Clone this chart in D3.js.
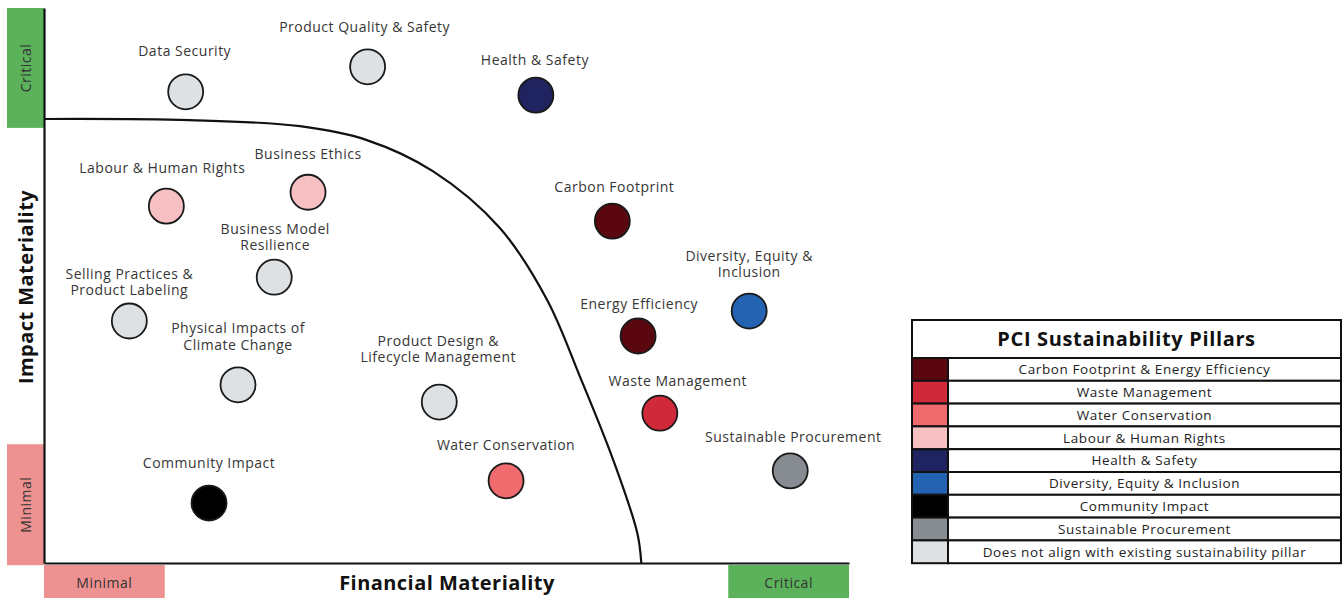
<!DOCTYPE html>
<html>
<head>
<meta charset="utf-8">
<script src="https://cdn.jsdelivr.net/npm/d3@7"></script>
<style>
  html, body { margin: 0; padding: 0; background: #fff; }
  svg { display: block; }
  text { font-family: "Open Sans", "Noto Sans", sans-serif; }
</style>
</head>
<body>
<svg id="chart" width="1342" height="598"></svg>
<script>
// ---------------- DATA ----------------
const topics = [
  ["Data Security"],
  ["Product Quality & Safety"],
  ["Health & Safety"],
  ["Labour & Human Rights"],
  ["Business Ethics"],
  ["Business Model", "Resilience"],
  ["Selling Practices &", "Product Labeling"],
  ["Physical Impacts of", "Climate Change"],
  ["Product Design &", "Lifecycle Management"],
  ["Community Impact"],
  ["Water Conservation"],
  ["Carbon Footprint"],
  ["Energy Efficiency"],
  ["Diversity, Equity &", "Inclusion"],
  ["Waste Management"],
  ["Sustainable Procurement"]
];
const financialMateriality = [17.6, 40.2, 61.1, 15.2, 32.8, 28.6, 10.6, 24.1, 49.1, 20.5, 57.4, 70.6, 73.8, 87.6, 76.5, 92.7];
const impactMateriality   = [84.9, 89.4, 84.3, 64.3, 66.8, 51.5, 43.6, 32.1, 29.0, 10.8, 14.8, 61.6, 40.9, 45.4, 27.0, 16.6];
const topicPillar         = [8, 8, 4, 3, 3, 8, 8, 8, 8, 6, 2, 0, 0, 5, 1, 7];

const pillars = [
  "Carbon Footprint & Energy Efficiency",
  "Waste Management",
  "Water Conservation",
  "Labour & Human Rights",
  "Health & Safety",
  "Diversity, Equity & Inclusion",
  "Community Impact",
  "Sustainable Procurement",
  "Does not align with existing sustainability pillar"
];
const pillarColors = ["#5a0710", "#d02a3a", "#ef6b6e", "#f7c1c4", "#1f2460", "#2462b2", "#000000", "#878c93", "#dde1e4"];

// materiality boundary curve (financial, impact)
const boundaryFinancial = [0, 18.1, 31.8, 40.1, 48.3, 56.6, 62.5, 66.6, 70.7, 73.7, 74.2];
const boundaryImpact    = [80.0, 79.8, 78.7, 76.2, 70.6, 60.4, 47.4, 33.5, 18.6, 5.4, 0];

// level bands on the axes
const xBands = [{label: "Minimal", from: 0, to: 15.0}, {label: "Critical", from: 85.0, to: 100}];
const yBands = [{label: "Minimal", from: -0.4, to: 21.4}, {label: "Critical", from: 78.4, to: 100}];

// label nudges [dx, dy of last line centre relative to circle centre] (layout only)
const labelNudge = [[-1,-41],[-3,-40],[-1,-35],[-4,-38],[0,-38],[1,-32],[0,-31],[0,-40],[-1,-45],[0,-40],[0,-36],[2,-34],[1,-32],[0,-39],[18,-32],[3,-34]];

// ---------------- CHART ----------------
const svg = d3.select("#chart");
const x = d3.scaleLinear().domain([0, 100]).range([44, 849]);
const y = d3.scaleLinear().domain([0, 100]).range([563, 8]);
const bandColor = {Minimal: "#ee9191", Critical: "#5bb25b"};

// y bands
const yb = svg.append("g");
yBands.forEach(b => {
  yb.append("rect").attr("x", 7).attr("width", 37)
    .attr("y", y(b.to)).attr("height", y(b.from) - y(b.to))
    .attr("fill", bandColor[b.label]);
  const cy = (y(b.to) + y(b.from)) / 2;
  yb.append("text").attr("transform", `translate(26,${cy}) rotate(-90)`)
    .attr("text-anchor", "middle").attr("dy", "0.35em")
    .attr("font-size", 14).attr("letter-spacing", 0.5).attr("fill", "#333").text(b.label);
});
// x bands
const xb = svg.append("g");
xBands.forEach(b => {
  xb.append("rect").attr("y", 565).attr("height", 40)
    .attr("x", x(b.from)).attr("width", x(b.to) - x(b.from))
    .attr("fill", bandColor[b.label]);
  xb.append("text").attr("x", (x(b.from) + x(b.to)) / 2).attr("y", 583)
    .attr("text-anchor", "middle").attr("dy", "0.35em")
    .attr("font-size", 14).attr("letter-spacing", 0.5).attr("fill", "#333").text(b.label);
});

// axes
svg.append("g").attr("transform", `translate(0,${y(0)})`)
  .call(d3.axisBottom(x).ticks(0).tickSizeOuter(0))
  .call(g => g.select(".domain").attr("stroke", "#111").attr("stroke-width", 2.2));
svg.append("g").attr("transform", `translate(${x(0)},0)`)
  .call(d3.axisLeft(y).ticks(0).tickSizeOuter(0))
  .call(g => g.select(".domain").attr("stroke", "#111").attr("stroke-width", 2.2));

// axis titles
svg.append("text").attr("x", 447).attr("y", 583).attr("dy", "0.35em")
  .attr("text-anchor", "middle").attr("font-size", 20).attr("font-weight", 700).attr("letter-spacing", 0.45)
  .attr("fill", "#111").text("Financial Materiality");
svg.append("text").attr("transform", `translate(26,287) rotate(-90)`).attr("dy", "0.35em")
  .attr("text-anchor", "middle").attr("font-size", 20).attr("font-weight", 700).attr("letter-spacing", 0.45)
  .attr("fill", "#111").text("Impact Materiality");

// boundary curve
const boundary = boundaryFinancial.map((f, i) => [f, boundaryImpact[i]]);
svg.append("path").datum(boundary)
  .attr("d", d3.line().x(d => x(d[0])).y(d => y(d[1])).curve(d3.curveCatmullRom.alpha(0.5)))
  .attr("fill", "none").attr("stroke", "#111").attr("stroke-width", 2.2);

// points
const pts = topics.map((t, i) => ({lines: t, fx: financialMateriality[i], iy: impactMateriality[i], p: topicPillar[i], n: labelNudge[i]}));
svg.append("g").selectAll("circle").data(pts).join("circle")
  .attr("cx", d => x(d.fx)).attr("cy", d => y(d.iy)).attr("r", 17.5)
  .attr("fill", d => pillarColors[d.p]).attr("stroke", "#1a1a1a").attr("stroke-width", 1.8);

const lineH = 16.4;
const lab = svg.append("g").selectAll("text").data(pts).join("text")
  .attr("text-anchor", "middle").attr("font-size", 14).attr("letter-spacing", 0.5).attr("fill", "#363636");
lab.each(function(d) {
  const t = d3.select(this);
  const cx = x(d.fx) + d.n[0];
  const lastY = y(d.iy) + d.n[1];
  const k = d.lines.length;
  d.lines.forEach((ln, j) => {
    t.append("tspan").attr("x", cx).attr("y", lastY - (k - 1 - j) * lineH).attr("dy", "0.35em").text(ln);
  });
});

// legend
const L = {x0: 912, x1: 1341, y0: 320, titleH: 38, rowH: 22.8, sw: 36};
const lg = svg.append("g");
lg.append("rect").attr("x", L.x0).attr("y", L.y0).attr("width", L.x1 - L.x0).attr("height", L.titleH)
  .attr("fill", "#fff").attr("stroke", "#111").attr("stroke-width", 2);
lg.append("text").attr("x", (L.x0 + L.x1) / 2).attr("y", L.y0 + L.titleH / 2).attr("dy", "0.35em")
  .attr("text-anchor", "middle").attr("font-size", 20).attr("font-weight", 700).attr("letter-spacing", 0.65).attr("fill", "#111")
  .text("PCI Sustainability Pillars");
const rows = lg.selectAll("g.row").data(pillars).join("g").attr("class", "row")
  .attr("transform", (d, i) => `translate(0,${L.y0 + L.titleH + i * L.rowH})`);
rows.append("rect").attr("x", L.x0).attr("y", 0).attr("width", L.sw).attr("height", L.rowH)
  .attr("fill", (d, i) => pillarColors[i]).attr("stroke", "#111").attr("stroke-width", 2);
rows.append("rect").attr("x", L.x0 + L.sw).attr("y", 0).attr("width", L.x1 - L.x0 - L.sw).attr("height", L.rowH)
  .attr("fill", "#fff").attr("stroke", "#111").attr("stroke-width", 2);
rows.append("text").attr("x", (L.x0 + L.sw + L.x1) / 2).attr("y", L.rowH / 2).attr("dy", "0.35em")
  .attr("text-anchor", "middle").attr("font-size", 13.5).attr("letter-spacing", 0.6).attr("fill", "#222").text(d => d);
</script>
</body>
</html>
